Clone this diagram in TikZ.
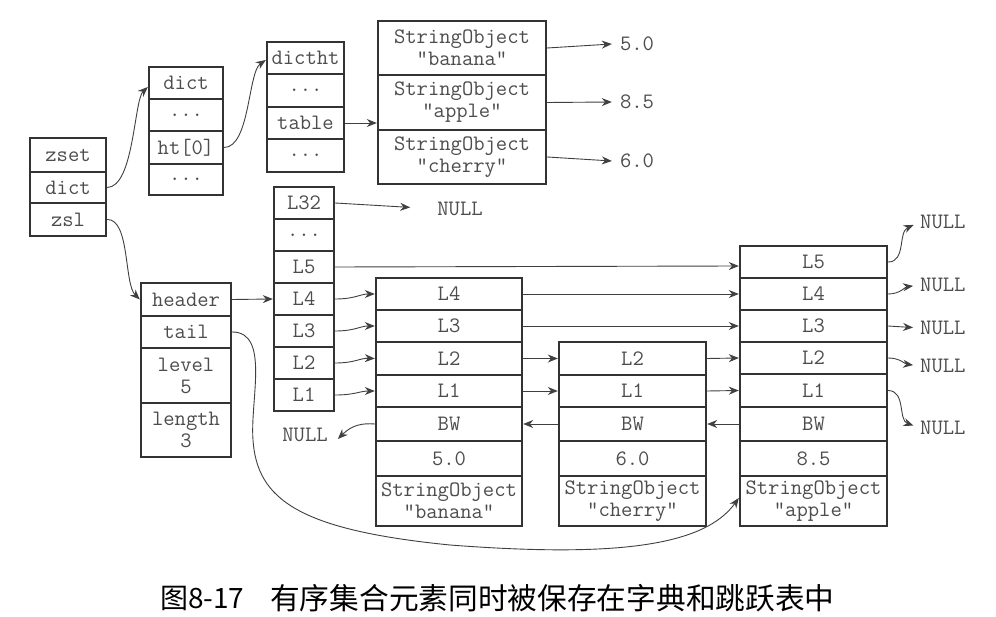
\documentclass[tikz,border=0pt]{standalone}
\usepackage{fontspec}
\newfontfamily\cjk{Noto Sans CJK SC}
\usetikzlibrary{arrows.meta}
\definecolor{boxc}{HTML}{333333}
\definecolor{txt}{HTML}{4D4D4D}
\definecolor{arr}{HTML}{404040}
\newcommand\mkcell[6]{\node[cell, minimum width={(#4-#2)*1pt}, minimum height={(#5-#3)*1pt}] (#1) at ({(#2+#4)/2},{(#3+#5)/2}) {#6};}
\begin{document}
\begin{tikzpicture}[x=1pt,y=-1pt,
  cell/.style={draw=boxc, line width=2.4pt, fill=white, inner sep=0pt, text=txt,
    font=\ttfamily\fontsize{22}{22}\selectfont, align=center},
  link/.style={draw=arr, line width=0.9pt, -{Stealth[length=10pt,width=8pt]}},
  lbl/.style={text=txt, font=\ttfamily\fontsize{22}{22}\selectfont, inner sep=0pt}]
\useasboundingbox (0,0) rectangle (996,617);
\fill[white] (0,0) rectangle (996,617);
% zset
\mkcell{zset}{30}{138}{106}{172}{zset}
\mkcell{zdict}{30}{172}{106}{203}{dict}
\mkcell{zsl}{30}{203}{106}{236}{zsl}
% dict
\mkcell{d1}{149}{67}{223}{99}{dict}
\mkcell{d2}{149}{99}{223}{131}{...}
\mkcell{dht}{149}{131}{223}{164}{ht[0]}
\mkcell{d4}{149}{164}{223}{195}{...}
% dictht
\mkcell{t1}{267}{42}{344}{74}{dictht}
\mkcell{t2}{267}{74}{344}{107}{...}
\mkcell{ttable}{267}{107}{344}{139}{table}
\mkcell{t4}{267}{139}{344}{172}{...}
% string objects
\mkcell{s1}{378}{21}{546}{75}{StringObject\\"banana"}
\mkcell{s2}{378}{75}{546}{130}{StringObject\\"apple"}
\mkcell{s3}{378}{130}{546}{184}{StringObject\\"cherry"}
\node[lbl] (v1) at (637,44) {5.0};
\node[lbl] (v2) at (637,102) {8.5};
\node[lbl] (v3) at (637,161) {6.0};
% header levels
\mkcell{l32}{274}{187}{334}{219}{L32}
\mkcell{ldots}{274}{219}{334}{251}{...}
\mkcell{l5}{274}{251}{334}{283}{L5}
\mkcell{l4}{274}{283}{334}{315}{L4}
\mkcell{l3}{274}{315}{334}{347}{L3}
\mkcell{l2}{274}{347}{334}{379}{L2}
\mkcell{l1}{274}{379}{334}{411}{L1}
\node[lbl] (n32) at (460,209) {NULL};
% zskiplist
\mkcell{hd}{141}{283}{231}{316}{header}
\mkcell{tl}{141}{316}{231}{348}{tail}
\mkcell{lv}{141}{348}{231}{403}{level\\5}
\mkcell{ln}{141}{403}{231}{457}{length\\3}
% node banana
\mkcell{a4}{376}{278}{522}{310}{L4}
\mkcell{a3}{376}{310}{522}{342}{L3}
\mkcell{a2}{376}{342}{522}{375}{L2}
\mkcell{a1}{376}{375}{522}{407}{L1}
\mkcell{abw}{376}{407}{522}{441}{BW}
\mkcell{asc}{376}{441}{522}{476}{5.0}
\mkcell{aso}{376}{476}{522}{526}{StringObject\\"banana"}
% node cherry
\mkcell{b2}{559}{342}{706}{375}{L2}
\mkcell{b1}{559}{375}{706}{407}{L1}
\mkcell{bbw}{559}{407}{706}{441}{BW}
\mkcell{bsc}{559}{441}{706}{476}{6.0}
\mkcell{bso}{559}{476}{706}{526}{StringObject\\"cherry"}
% node apple
\mkcell{c5}{740}{246}{887}{278}{L5}
\mkcell{c4}{740}{278}{887}{310}{L4}
\mkcell{c3}{740}{310}{887}{342}{L3}
\mkcell{c2}{740}{342}{887}{374}{L2}
\mkcell{c1}{740}{374}{887}{407}{L1}
\mkcell{cbw}{740}{407}{887}{441}{BW}
\mkcell{csc}{740}{441}{887}{476}{8.5}
\mkcell{cso}{740}{476}{887}{526}{StringObject\\"apple"}
% NULL labels
\node[lbl, anchor=west] (r5) at (920,222) {NULL};
\node[lbl, anchor=west] (r4) at (920,285) {NULL};
\node[lbl, anchor=west] (r3) at (920,328) {NULL};
\node[lbl, anchor=west] (r2) at (920,366) {NULL};
\node[lbl, anchor=west] (r1) at (920,428) {NULL};
\node[lbl] (nl) at (305,435) {NULL};
% connectors: dict side
\draw[link] (zdict.east) .. controls (134,187) and (134,100) .. ([yshift=-4pt]d1.west);
\draw[link] (dht.east) .. controls (250,147) and (248,72) .. ([yshift=-2pt]t1.west);
\draw[link] (ttable.east) -- (ttable.east -| s2.west);
\draw[link] (s1.east) -- ([xshift=-8pt]v1.west);
\draw[link] (s2.east) -- ([xshift=-8pt]v2.west);
\draw[link] (s3.east) -- ([xshift=-8pt]v3.west);
% connectors: skiplist
\draw[link] (zsl.east) .. controls (130,219) and (124,284) .. (hd.west);
\draw[link] (hd.east) -- (l4.west);
\draw[link, shorten >=27pt] (l32.east) -- (n32.west);
\draw[link] (l5.east) -- ([yshift=-4pt]c5.west);
\draw[link] (l4.east) .. controls (355,299) and (360,294) .. (a4.west);
\draw[link] (l3.east) .. controls (355,331) and (360,326) .. (a3.west);
\draw[link] (l2.east) .. controls (355,363) and (360,358) .. (a2.west);
\draw[link] (l1.east) .. controls (355,395) and (360,391) .. (a1.west);
\draw[link] (a4.east) -- (c4.west);
\draw[link] (a3.east) -- (c3.west);
\draw[link] (a2.east) -- (b2.west);
\draw[link] (a1.east) -- (b1.west);
\draw[link] (b2.east) -- (c2.west);
\draw[link] (b1.east) -- (c1.west);
\draw[link] (bbw.west) -- (abw.east);
\draw[link] (cbw.west) -- (bbw.east);
\draw[link] (abw.west) .. controls (362,423) and (352,425) .. ([xshift=10pt,yshift=-4pt]nl.east);
\draw[link] (tl.east) .. controls (270,332) and (250,400) .. (253,440)
  .. controls (257,500) and (300,530) .. (450,545)
  .. controls (620,558) and (705,545) .. ([yshift=3pt]cso.west);
% right NULL arrows
\draw[link, shorten >=7pt] (c5.east) .. controls (906,262) and (898,232) .. (r5.west);
\draw[link, shorten >=7pt] (c4.east) .. controls (900,294) and (905,287) .. (r4.west);
\draw[link, shorten >=7pt] (c3.east) -- (r3.west);
\draw[link, shorten >=7pt] (c2.east) .. controls (900,358) and (905,364) .. (r2.west);
\draw[link, shorten >=7pt] (c1.east) .. controls (906,391) and (898,420) .. (r1.west);
% caption
\node[anchor=west, inner sep=0pt, font=\cjk\fontsize{28}{30}\selectfont] (capnum) at (160,598) {图8-17};
\node[anchor=west, inner sep=0pt, font=\cjk\fontsize{29.7}{30}\selectfont] (cap) at (270,598) {有序集合元素同时被保存在字典和跳跃表中};
\end{tikzpicture}
\end{document}
